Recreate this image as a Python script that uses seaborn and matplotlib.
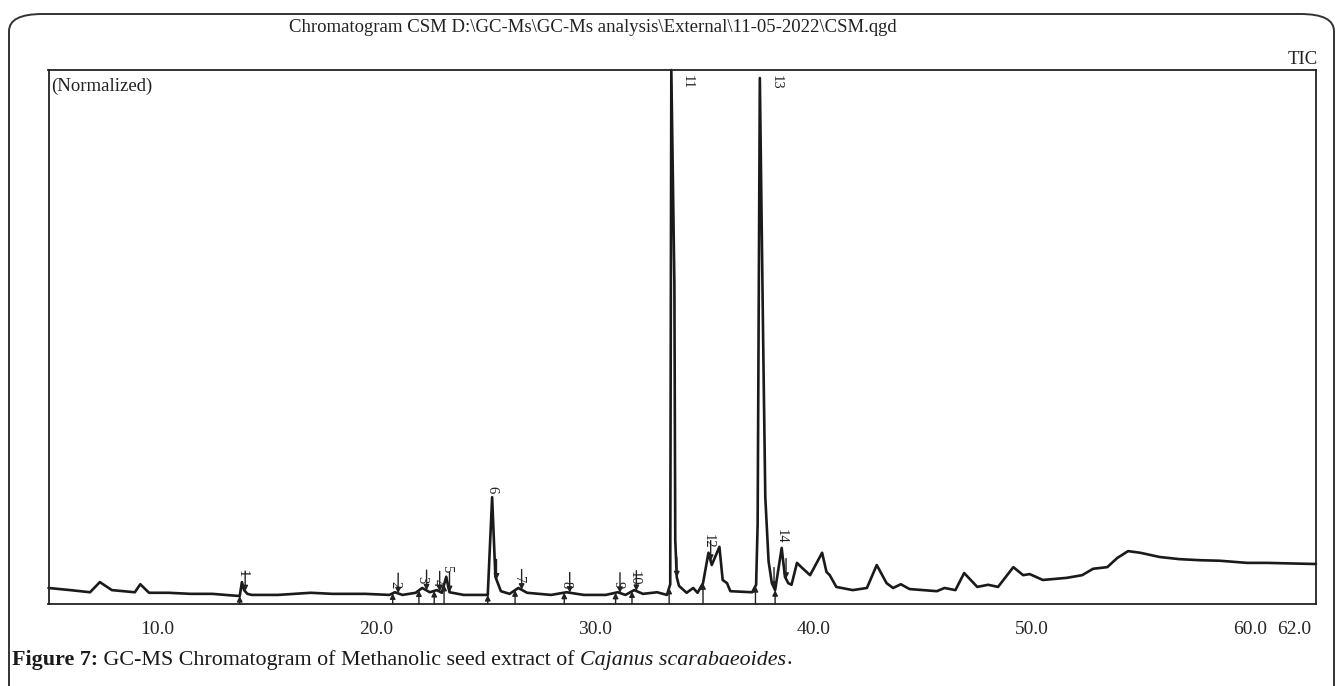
import numpy as np
import pandas as pd
import matplotlib
matplotlib.use("Agg")
import matplotlib.pyplot as plt
import seaborn as sns
from matplotlib.patches import FancyBboxPatch
from matplotlib.ticker import FixedLocator, MultipleLocator

# ---------------- data ----------------
ret_time = [5.0, 6.0, 6.9, 7.35, 7.9, 8.95, 9.2, 9.6, 10.5, 11.5, 12.5, 13.4, 13.75,
            13.85, 13.95, 14.1, 14.3, 15.5, 17.0, 18.0, 19.5, 20.6, 20.85, 21.2, 21.8,
            22.1, 22.45, 22.77, 23.0, 23.2, 23.35, 24.0, 25.1, 25.3, 25.45, 25.7, 26.1,
            26.5, 26.9, 28.0, 28.7, 29.5, 30.5, 31.05, 31.4, 31.8, 32.2, 32.85, 33.3,
            33.45, 33.5, 33.64, 33.68, 33.75, 33.85, 34.2, 34.5, 34.7, 34.95, 35.2,
            35.35, 35.7, 35.85, 36.05, 36.2, 37.2, 37.38, 37.45, 37.55, 37.7, 37.8,
            37.95, 38.1, 38.25, 38.55, 38.7, 38.85, 39.0, 39.25, 39.5, 39.85, 40.4,
            40.6, 40.75, 41.05, 41.8, 42.45, 42.9, 43.35, 43.65, 44.0, 44.4, 45.65,
            46.0, 46.5, 46.9, 47.5, 48.0, 48.45, 49.15, 49.6, 49.9, 50.5, 51.6, 52.3,
            52.8, 53.45, 53.9, 54.4, 54.95, 55.85, 56.75, 57.7, 58.6, 59.85, 60.75,
            62.85, 63.0]
intensity = [3.0, 2.6, 2.2, 4.1, 2.6, 2.2, 3.7, 2.1, 2.1, 1.9, 1.9, 1.6, 1.5,
             4.1, 2.6, 1.9, 1.7, 1.7, 2.1, 1.9, 1.9, 1.7, 2.2, 1.7, 2.1,
             3.0, 2.2, 2.6, 2.1, 5.1, 2.2, 1.7, 1.7, 20.0, 5.1, 2.4, 1.9,
             3.0, 2.1, 1.7, 2.2, 1.7, 1.7, 2.2, 1.7, 2.6, 1.9, 2.2, 1.7,
             3.7, 100.0, 60.0, 12.0, 5.0, 3.4, 2.1, 3.0, 2.1, 3.9, 9.6,
             7.3, 10.7, 4.5, 3.9, 2.4, 2.2, 3.6, 15.0, 98.5, 50.0, 20.0,
             8.0, 3.9, 2.6, 10.5, 5.1, 3.9, 3.6, 7.7, 6.7, 5.4, 9.6,
             6.0, 5.4, 3.2, 2.6, 3.0, 7.3, 3.9, 3.0, 3.7, 2.8, 2.4,
             3.0, 2.6, 5.8, 3.2, 3.6, 3.2, 6.9, 5.4, 5.6, 4.5, 4.9, 5.4,
             6.6, 6.9, 8.6, 9.9, 9.6, 8.8, 8.4, 8.2, 8.1, 7.7, 7.7,
             7.5, 7.5]

peak_ids = ["1", "2", "3", "4", "5", "6", "7", "8", "9", "10", "11", "12", "13", "14"]
peak_apex = [13.85, 20.85, 22.1, 22.77, 23.2, 25.3, 26.5, 28.7, 31.05, 31.8, 33.5, 35.2, 37.55, 38.55]
peak_start = [13.75, 20.75, 21.95, 22.65, 23.1, 25.1, 26.35, 28.6, 30.95, 31.7, 33.4, 34.95, 37.35, 38.25]
peak_end = [14.0, 21.0, 22.3, 22.9, 23.35, 25.5, 26.65, 28.85, 31.15, 31.9, 33.75, 35.3, 38.2, 38.75]

major_ticks = [10.0, 20.0, 30.0, 40.0, 50.0, 60.0, 62.0]
mid_ticks = [15.0, 25.0, 35.0, 45.0, 55.0]

title_text = r"Chromatogram CSM D:\GC-Ms\GC-Ms analysis\External\11-05-2022\CSM.qgd"
caption_parts = [("Figure 7:", "bold", "normal"),
                 (" GC-MS Chromatogram of Methanolic seed extract of ", "normal", "normal"),
                 ("Cajanus scarabaeoides", "normal", "italic"),
                 (".", "normal", "normal")]

# ---------------- style ----------------
sns.set_theme(style="white")
plt.rcParams["font.family"] = ["Liberation Serif", "DejaVu Serif"]
plt.rcParams["axes.linewidth"] = 1.3
plt.rcParams["axes.edgecolor"] = "#222222"

W, H = 1341, 686
fig = plt.figure(figsize=(W / 100, H / 100), dpi=100)
fig.patch.set_facecolor("white")

ax_l, ax_r, ax_t, ax_b = 48.5, 1316, 70, 604
ax = fig.add_axes([ax_l / W, 1 - ax_b / H, (ax_r - ax_l) / W, (ax_b - ax_t) / H])
ax.set_facecolor("white")

df = pd.DataFrame({"time": ret_time, "tic": intensity})
sns.lineplot(data=df, x="time", y="tic", ax=ax, color="#1a1a1a", linewidth=1.9,
             sort=False, estimator=None)
for ln in ax.lines:
    ln.set_clip_on(False)

ax.set_xlim(5.0, 63.0)
ax.set_ylim(0, 100)
ax.set_xlabel("")
ax.set_ylabel("")
ax.set_yticks([])
for s in ax.spines.values():
    s.set_visible(True)
    s.set_color("#222222")
    s.set_linewidth(1.3)

# x ticks
all_major = sorted(major_ticks + mid_ticks)
ax.xaxis.set_major_locator(FixedLocator(all_major))
ax.set_xticklabels([f"{v:.1f}" if v in major_ticks else "" for v in all_major])
ax.xaxis.set_minor_locator(MultipleLocator(1.0))
ax.tick_params(axis="x", which="major", direction="out", length=8.5, width=1.2,
               color="#222222", pad=4, labelsize=14, labelcolor="#262626")
ax.tick_params(axis="x", which="minor", direction="out", length=4.5, width=1.1,
               color="#222222")
for tk, loc in zip(ax.xaxis.get_major_ticks(), all_major):
    if loc in mid_ticks:
        tk.tick1line.set_markersize(6.0)
    elif loc == 62.0:
        tk.tick1line.set_markersize(4.5)

# peak markers and labels
for pid, ta, ts, te in zip(peak_ids, peak_apex, peak_start, peak_end):
    va_ = float(np.interp(ta, ret_time, intensity))
    vs = float(np.interp(ts, ret_time, intensity))
    ve = float(np.interp(te, ret_time, intensity))
    ax.annotate("", xy=(ts, vs), xytext=(ts, 0),
                arrowprops=dict(arrowstyle="-|>", color="#222222", lw=1.0,
                                mutation_scale=8, shrinkA=0, shrinkB=0))
    ax.annotate("", xy=(te, ve), xytext=(te, ve + 3.8),
                arrowprops=dict(arrowstyle="-|>", color="#222222", lw=1.0,
                                mutation_scale=8, shrinkA=0, shrinkB=0))
    if va_ > 90:
        ax.text(ta + 0.75, 99.0, pid, rotation=-90, ha="center", va="top",
                fontsize=10.5, color="#222222")
    else:
        ax.text(ta, va_ + 0.8, pid, rotation=-90, ha="center", va="bottom",
                fontsize=10.5, color="#222222")

# texts around the plot
fig.text(593 / W, 1 - 27 / H, title_text, ha="center", va="center",
         fontsize=13.5, color="#222222")
fig.text(1318 / W, 1 - 60 / H, "TIC", ha="right", va="center",
         fontsize=13.5, color="#222222")
fig.text(51 / W, 1 - 86 / H, "(Normalized)", ha="left", va="center",
         fontsize=13.5, color="#222222")

# outer rounded frame
frame = FancyBboxPatch((9 / W, -0.2), (1334 - 9) / W, (0.2 + 1 - 14 / H),
                       boxstyle="round,pad=0,rounding_size=0.025",
                       transform=fig.transFigure, fill=False,
                       edgecolor="#333333", linewidth=1.4, clip_on=False)
fig.add_artist(frame)

# caption
fig.canvas.draw()
rend = fig.canvas.get_renderer()
xpos = 12
for txt, wt, st in caption_parts:
    t = fig.text(xpos / W, 1 - 660 / H, txt, ha="left", va="center",
                 fontsize=15.8, fontweight=wt, fontstyle=st, color="#1a1a1a")
    bb = t.get_window_extent(renderer=rend)
    xpos = bb.x1

fig.savefig("out.png", dpi=100, facecolor="white")
